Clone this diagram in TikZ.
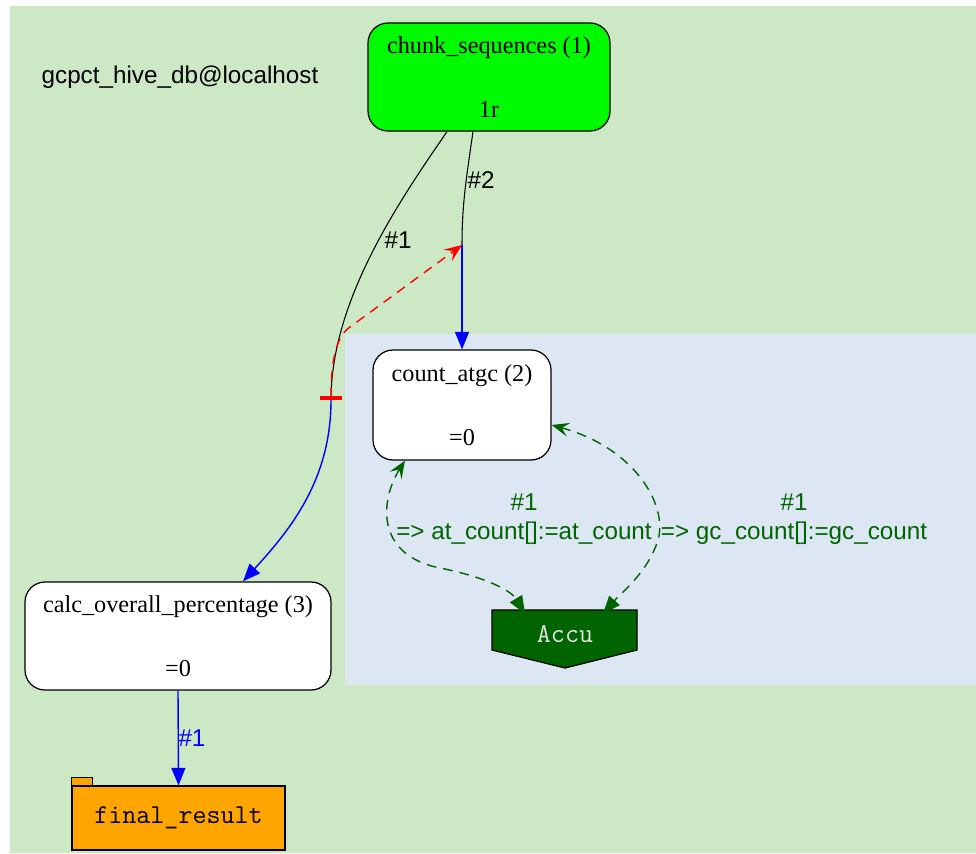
\documentclass[tikz,border=0pt]{standalone}
\usepackage{fontspec}
\setmainfont{Liberation Serif}
\setsansfont{Liberation Sans}
\usetikzlibrary{arrows.meta, calc}

\definecolor{bggreen}{RGB}{205,232,197}
\definecolor{bgblue}{RGB}{220,231,243}
\definecolor{nodegreen}{RGB}{0,250,0}
\definecolor{foldorange}{RGB}{255,165,0}
\definecolor{accugreen}{RGB}{0,100,0}

\begin{document}
\begin{tikzpicture}[x=0.02cm, y=-0.02cm,
    opnode/.style={rectangle, draw, fill=white, rounded corners=0.4cm, align=center, line width=0.7pt, font=\fontsize{13.8}{16.5}\selectfont},
    lbl/.style={font=\sffamily\fontsize{13.8}{16.5}\selectfont, align=center, inner sep=1pt},
    line/.style={draw, line width=0.6pt},
    flow/.style={draw, blue, line width=0.8pt, -{Triangle[length=10pt, width=8pt]}},
    semaphore/.style={draw, red, line width=0.8pt, dash pattern=on 5.5pt off 4pt, {Bar[width=12pt, line width=2pt]}-{Stealth[length=10pt, width=8pt, inset=4pt]}},
    accuflow/.style={draw, accugreen, line width=0.8pt, dash pattern=on 5.5pt off 4pt, {Stealth[length=10pt, width=8pt, inset=4pt]}-{Triangle[length=10pt, width=8pt]}}]

    \useasboundingbox (0,0) rectangle (976,853);
    \fill[white] (0,0) rectangle (976,853);
    \fill[bggreen] (10,6) rectangle (976,853);
    \fill[bgblue] (345,334) rectangle (976,685);

    \node [lbl] (dbname) at (180,77) {gcpct\_hive\_db@localhost};

    \node [opnode, fill=nodegreen, minimum width=242*0.02cm, minimum height=108*0.02cm] (chunk) at (489,77) {chunk\_sequences (1)\\[0.69cm]1r};
    \node [opnode, minimum width=178*0.02cm, minimum height=110*0.02cm] (count) at (462,405) {count\_atgc (2)\\[0.69cm]=0};
    \node [opnode, minimum width=306*0.02cm, minimum height=108*0.02cm] (calc) at (178,636) {calc\_overall\_percentage (3)\\[0.69cm]=0};

    \node [draw, fill=foldorange, line width=0.7pt, minimum width=213*0.02cm, minimum height=64*0.02cm, font=\ttfamily\fontsize{15.5}{18}\selectfont] (final) at (178.5,818) {final\_result};
    \filldraw [fill=foldorange, line width=0.7pt] (final.north west) rectangle ++(21,-8);

    \fill [accugreen] (492,610) -- (637,610) -- (637,650) -- (565,668) -- (492,650) -- cycle;
    \draw [line width=0.7pt] (492,610) -- (637,610) -- (637,650) -- (565,668) -- (492,650) -- cycle;
    \node [minimum width=145*0.02cm, minimum height=40*0.02cm, text=white!90!black, font=\ttfamily\fontsize{15.5}{18}\selectfont] (accu) at (565,634) {Accu};

    \coordinate (sem1) at (331,400);
    \coordinate (sem2) at (462,245);

    \path [line] ($(chunk.south)+(-42,0)$) .. controls (400,200) and (331,300) .. (sem1);
    \path [line] ($(chunk.south)+(-16,0)$) .. controls (466,180) and (462,205) .. (sem2);
    \node [lbl] (lblone) at (398,240) {\#1};
    \node [lbl] (lbltwo) at (481,180) {\#2};

    \path [flow] (sem1) .. controls (331,480) and (290,530) .. ($(calc.north)+(65,0)$);
    \path [flow] (sem2) -- (count.north);
    \path [semaphore] (sem1) .. controls (331,355) and (338,335) .. (350,327) -- (sem2);

    \path [flow] (calc.south) -- (final.north);
    \node [lbl, text=blue] (lblfinal) at (192,738) {\#1};

    \path [accuflow] ($(count.south)+(-57,0)$) .. controls (380,500) and (375,555) .. (440,568) .. controls (490,578) and (512,592) .. ($(accu.north)+(-40,0)$);
    \path [accuflow] ($(count.east)+(0,20)$) .. controls (635,448) and (668,505) .. (658,540) .. controls (648,572) and (622,592) .. ($(accu.north)+(38,0)$);
    \node [lbl, text=accugreen] (lblat) at (524,519) {\#1\\=> at\_count[]:=at\_count};
    \node [lbl, text=accugreen] (lblgc) at (794,519) {\#1\\=> gc\_count[]:=gc\_count};
\end{tikzpicture}
\end{document}
